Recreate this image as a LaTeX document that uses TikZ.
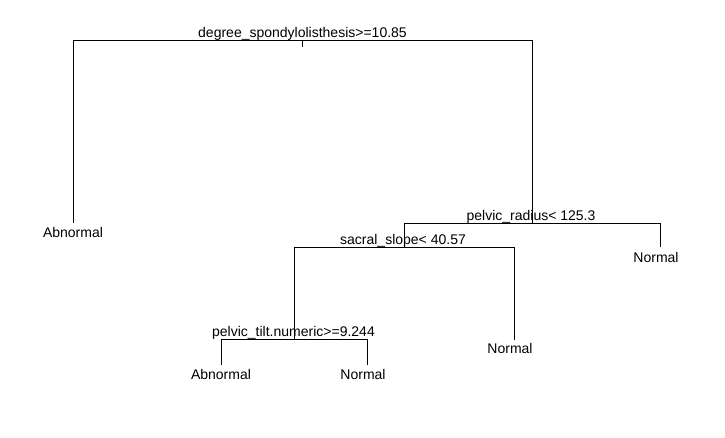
\documentclass[tikz,border=0pt]{standalone}
\usepackage{fontspec}
\setmainfont{Liberation Sans}
\usepackage{tikz}

\begin{document}
\begin{tikzpicture}[
		x=1pt,y=-1pt,
		branch/.style={line width=0.9pt},
		every node/.style={inner sep=0pt,font=\fontsize{14}{16}\selectfont},
		split/.style={anchor=base},
		leaf/.style={anchor=base}]
		\useasboundingbox (0,0) rectangle (725,438);

		% split points and branch ends
		\coordinate (root) at (302,40);
		\coordinate (rootstub) at (302,47);
		\coordinate (rl) at (73,40);
		\coordinate (rr) at (532,40);
		\coordinate (leafA) at (73,223);
		\coordinate (pr) at (532,223);
		\coordinate (prl) at (404,223);
		\coordinate (prr) at (660,223);
		\coordinate (leafB) at (660,247);
		\coordinate (ss) at (404,247);
		\coordinate (ssl) at (294,247);
		\coordinate (ssr) at (514,247);
		\coordinate (leafC) at (514,340);
		\coordinate (pt) at (294,339);
		\coordinate (ptl) at (221,339);
		\coordinate (ptr) at (367,339);
		\coordinate (leafD) at (221,365);
		\coordinate (leafE) at (367,365);

		\draw[branch] (leafA) -- (rl) -- (rr) -- (pr);
		\draw[branch] (root) -- (rootstub);
		\draw[branch] (ss) -- (prl) -- (prr) -- (leafB);
		\draw[branch] (pt) -- (ssl) -- (ssr) -- (leafC);
		\draw[branch] (leafD) -- (ptl) -- (ptr) -- (leafE);

		% split labels
		\node[split] (lroot) at (302.5,37.5) {degree\_spondylolisthesis>=10.85};
		\node[split] (lpr)   at (531,220.5)  {pelvic\_radius< 125.3};
		\node[split] (lss)   at (403,244)    {sacral\_slope< 40.57};
		\node[split] (lpt)   at (293.5,336)  {pelvic\_tilt.numeric>=9.244};

		% leaf labels
		\node[leaf] (tA) at (73,237.5)  {Abnormal};
		\node[leaf] (tB) at (656,262)   {Normal};
		\node[leaf] (tC) at (510,353.5) {Normal};
		\node[leaf] (tD) at (221,379)   {Abnormal};
		\node[leaf] (tE) at (363,379)   {Normal};
\end{tikzpicture}
\end{document}
